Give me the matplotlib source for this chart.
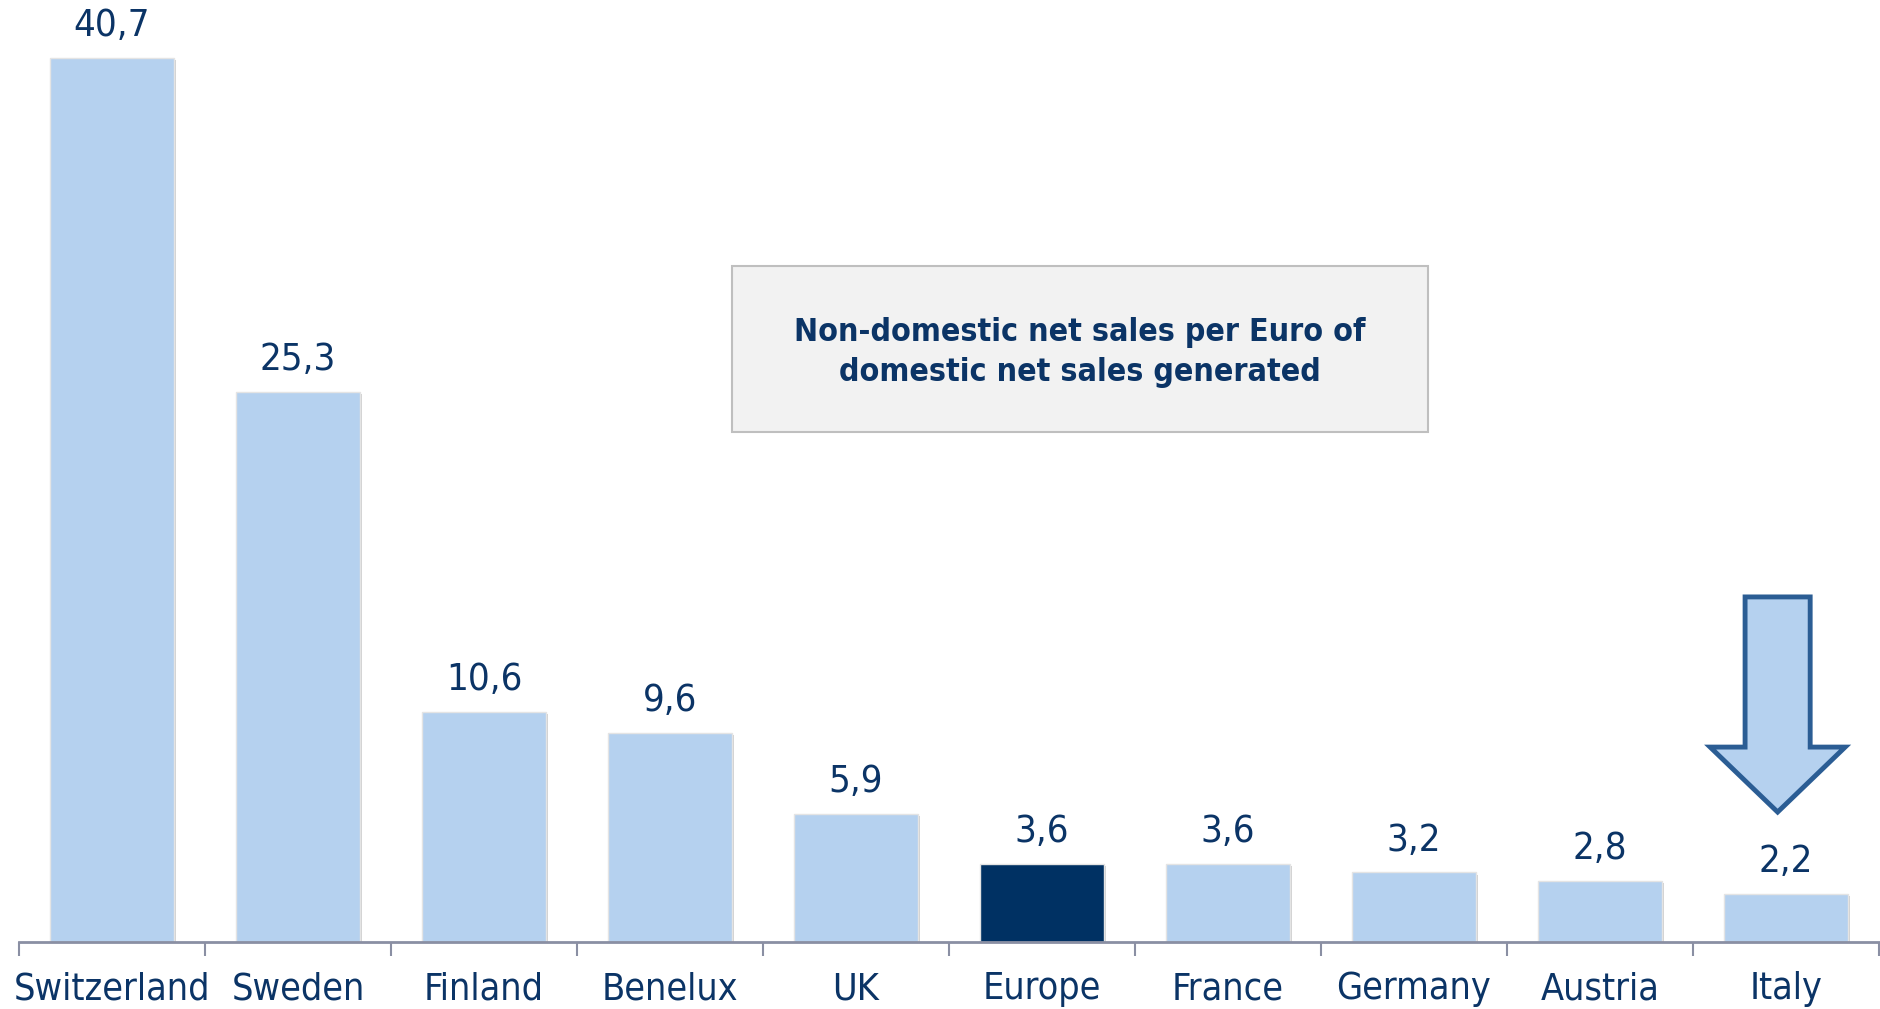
import matplotlib
matplotlib.use("Agg")
import matplotlib.pyplot as plt
from matplotlib.patches import Rectangle, Polygon
import matplotlib.patheffects as pe

categories = ["Switzerland", "Sweden", "Finland", "Benelux", "UK",
              "Europe", "France", "Germany", "Austria", "Italy"]
values = [40.7, 25.3, 10.6, 9.6, 5.9, 3.6, 3.6, 3.2, 2.8, 2.2]
value_labels = ["40,7", "25,3", "10,6", "9,6", "5,9", "3,6", "3,6", "3,2", "2,8", "2,2"]
highlight = "Europe"
box_text = "Non-domestic net sales per Euro of\ndomestic net sales generated"

LIGHT = "#b5d1ef"
DARK = "#003163"
TEXT = "#0b3466"
AXIS = "#8a8fa3"

plt.rcParams['font.family'] = ['DejaVu Sans']
plt.rcParams['font.stretch'] = 'condensed'

W, H = 1881, 1009
fig = plt.figure(figsize=(W / 100, H / 100), dpi=100)
ax = fig.add_axes([19 / W, 1 - 942 / H, 1860 / W, 942 / H])
ax.set_xlim(-0.5, len(categories) - 0.5)
ax.set_ylim(0, 43.35)

colors = [DARK if c == highlight else LIGHT for c in categories]
x = list(range(len(categories)))
bars = ax.bar(x, values, width=0.665, color=colors, edgecolor="#e4e4e4", linewidth=1, zorder=2)
for b in bars:
    b.set_path_effects([pe.SimplePatchShadow(offset=(1.5, -1.5), shadow_rgbFace="#9a9a9a", alpha=0.45),
                        pe.Normal()])

for xi, v, lab in zip(x, values, value_labels):
    ax.annotate(lab, (xi, v), xytext=(0, 23), textcoords="offset points",
                ha="center", va="center", fontsize=27.5, color=TEXT)

for s in ["top", "right", "left"]:
    ax.spines[s].set_visible(False)
ax.spines["bottom"].set_color(AXIS)
ax.spines["bottom"].set_linewidth(2)
ax.set_yticks([])
ax.set_xticks([i - 0.5 for i in range(len(categories) + 1)])
ax.set_xticklabels([])
ax.tick_params(axis="x", length=10, width=1.5, color=AXIS, direction="out")
for xi, c in zip(x, categories):
    ax.annotate(c, (xi, 0), xytext=(0, -34), textcoords="offset points",
                ha="center", va="center", fontsize=27, color=TEXT)

# annotation box
ax.add_patch(Rectangle((732 / W, 1 - 432 / H), (1428 - 732) / W, (432 - 266) / H,
                       transform=fig.transFigure, facecolor="#f2f2f2", edgecolor="#bfbfbf",
                       linewidth=1.5, zorder=1, clip_on=False))
fig.text(1080 / W, 1 - 352.5 / H, box_text, ha="center", va="center", fontsize=23,
         fontweight="bold", color=TEXT, linespacing=1.4)

# arrow pointing to Italy
ix = categories.index("Italy") - 0.045
sw, hw = 0.175, 0.363
ytop, ywing, ytip = 15.88, 8.97, 5.98
arrow = Polygon([(ix - sw, ytop), (ix + sw, ytop), (ix + sw, ywing), (ix + hw, ywing),
                 (ix, ytip), (ix - hw, ywing), (ix - sw, ywing)], closed=True,
                facecolor=LIGHT, edgecolor="#2b5d94", linewidth=3.5, zorder=3)
ax.add_patch(arrow)

fig.savefig("out.png", dpi=100)
